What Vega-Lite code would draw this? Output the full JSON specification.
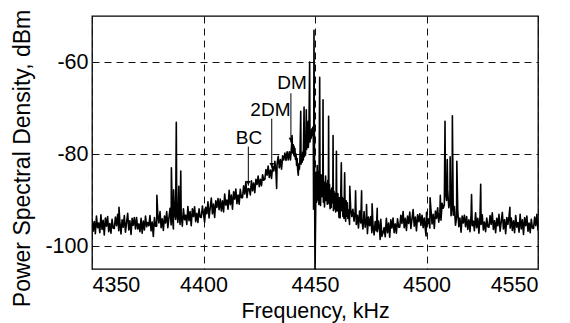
{
"$schema": "https://vega.github.io/schema/vega-lite/v6.json",
"width": 446, "height": 253,
"autosize": {"type": "none"},
"padding": {"left": 92, "top": 16, "right": 32, "bottom": 54},
"background": "white",
"config": {
  "view": {"stroke": "#000", "strokeWidth": 1.3},
  "axis": {"grid": true, "gridColor": "#111", "gridDash": [7, 5], "gridWidth": 1, "gridOpacity": 1, "ticks": false, "tickSize": 0, "domain": false, "labelFont": "Liberation Sans", "labelFontSize": 21.5, "labelColor": "#000", "titleFont": "Liberation Sans", "titleColor": "#000", "titleFontWeight": "normal"}
},
"datasets": {
"spec": [
{"f":4350,"p":-94.1},{"f":4350.5,"p":-96.8},{"f":4351,"p":-94.7},{"f":4351.5,"p":-97.3},{"f":4352,"p":-93.5},{"f":4352.5,"p":-96.0},{"f":4353,"p":-95.0},{"f":4353.5,"p":-97.1},{"f":4354,"p":-93.2},{"f":4354.5,"p":-96.4},{"f":4355,"p":-94.4},{"f":4355.5,"p":-97.6},{"f":4356,"p":-93.9},{"f":4356.5,"p":-95.7},{"f":4357,"p":-93.6},{"f":4357.5,"p":-96.9},{"f":4358,"p":-95.1},{"f":4358.5,"p":-97.2},{"f":4359,"p":-94.2},{"f":4359.5,"p":-96.1},
{"f":4360,"p":-96.2},{"f":4360.5,"p":-93.7},{"f":4361,"p":-95.6},{"f":4361.5,"p":-93.1},{"f":4362,"p":-96.7},{"f":4362.1,"p":-91.6},{"f":4362.5,"p":-94.8},{"f":4363,"p":-97.4},{"f":4363.5,"p":-94.3},{"f":4364,"p":-95.9},{"f":4364.5,"p":-93.4},{"f":4365,"p":-97.0},{"f":4365.5,"p":-94.9},{"f":4366,"p":-92.9},{"f":4366.5,"p":-96.5},{"f":4367,"p":-94.5},{"f":4367.5,"p":-97.5},{"f":4368,"p":-94.0},{"f":4368.5,"p":-95.5},{"f":4369,"p":-93.8},{"f":4369.5,"p":-96.3},
{"f":4370,"p":-93.8},{"f":4370.5,"p":-96.3},{"f":4371,"p":-95.2},{"f":4371.5,"p":-96.9},{"f":4372,"p":-94.0},{"f":4372.5,"p":-97.2},{"f":4373,"p":-94.6},{"f":4373.5,"p":-96.5},{"f":4374,"p":-93.5},{"f":4374.5,"p":-95.8},{"f":4375,"p":-94.9},
{"f":4375.5,"p":-95.6},{"f":4376,"p":-93.4},{"f":4376.5,"p":-96.7},{"f":4377,"p":-94.8},{"f":4377.5,"p":-97.9},{"f":4378,"p":-93.8},{"f":4378.5,"p":-95.7},{"f":4379,"p":-95.7},{"f":4379.1,"p":-89.0},{"f":4379.5,"p":-93.2},{"f":4380,"p":-95.0},{"f":4380.5,"p":-92.5},{"f":4381,"p":-96.0},{"f":4381.5,"p":-94.1},{"f":4382,"p":-96.6},{"f":4382.5,"p":-93.5},{"f":4383,"p":-95.0},{"f":4383.5,"p":-92.5},{"f":4384,"p":-96.0},{"f":4384.5,"p":-93.9},{"f":4385,"p":-91.8},{"f":4385.5,"p":-95.4},{"f":4385.6,"p":-83.0},{"f":4386,"p":-93.3},{"f":4386.5,"p":-96.3},{"f":4386.6,"p":-87.8},{"f":4387,"p":-92.8},{"f":4387.5,"p":-94.2},{"f":4387.8,"p":-73.1},{"f":4388,"p":-92.5},{"f":4388.5,"p":-94.9},{"f":4388.9,"p":-87.0},{"f":4389,"p":-92.7},{"f":4389.5,"p":-95.3},{"f":4389.8,"p":-83.7},{"f":4390,"p":-93.2},{"f":4390.5,"p":-95.7},{"f":4391,"p":-91.9},{"f":4391.5,"p":-94.3},{"f":4392,"p":-93.3},{"f":4392.5,"p":-95.3},{"f":4393,"p":-91.4},{"f":4393.5,"p":-94.5},{"f":4394,"p":-92.5},{"f":4394.5,"p":-95.6},{"f":4395,"p":-91.9},{"f":4395.5,"p":-93.6},{"f":4396,"p":-91.5},{"f":4396.5,"p":-94.7},{"f":4397,"p":-92.9},{"f":4397.5,"p":-94.9},{"f":4398,"p":-91.9},{"f":4398.5,"p":-93.7},{"f":4399,"p":-93.8},{"f":4399.5,"p":-91.3},{"f":4400,"p":-93.1},
{"f":4400.5,"p":-94.8},{"f":4401,"p":-91.6},{"f":4401.5,"p":-93.0},{"f":4402,"p":-90.4},{"f":4402.5,"p":-93.9},{"f":4403,"p":-91.7},{"f":4403.5,"p":-89.6},{"f":4404,"p":-93.0},{"f":4404.5,"p":-90.9},{"f":4405,"p":-93.8},{"f":4405.5,"p":-90.2},{"f":4406,"p":-91.6},{"f":4406.5,"p":-89.7},{"f":4407,"p":-92.1},{"f":4407.5,"p":-89.8},{"f":4408,"p":-92.4},{"f":4408.5,"p":-90.2},{"f":4409,"p":-92.6},{"f":4409.5,"p":-88.7},{"f":4410,"p":-91.1},{"f":4410.5,"p":-90.0},{"f":4411,"p":-92.0},{"f":4411.5,"p":-87.9},{"f":4412,"p":-91.0},{"f":4412.5,"p":-88.9},{"f":4413,"p":-92.0},{"f":4413.5,"p":-88.2},{"f":4414,"p":-89.8},{"f":4414.5,"p":-87.6},{"f":4415,"p":-90.8},{"f":4415.5,"p":-88.9},{"f":4416,"p":-90.9},{"f":4416.5,"p":-87.7},{"f":4417,"p":-89.5},{"f":4417.5,"p":-89.5},{"f":4418,"p":-86.9},{"f":4418.5,"p":-88.7},{"f":4419,"p":-86.0},{"f":4419.5,"p":-89.5},{"f":4420,"p":-87.5},
{"f":4420.5,"p":-87.6},{"f":4421,"p":-88.9},{"f":4421.5,"p":-85.8},{"f":4422,"p":-88.0},{"f":4422.5,"p":-86.3},{"f":4423,"p":-88.4},{"f":4423.5,"p":-85.5},{"f":4424,"p":-86.6},{"f":4424.5,"p":-84.8},{"f":4425,"p":-87.1},{"f":4425.5,"p":-85.5},{"f":4426,"p":-86.9},{"f":4426.5,"p":-84.5},{"f":4427,"p":-85.7},{"f":4427.5,"p":-85.5},{"f":4428,"p":-83.4},{"f":4428.5,"p":-84.6},{"f":4429,"p":-82.6},{"f":4429.5,"p":-85.1},{"f":4430,"p":-83.5},
{"f":4430.5,"p":-85.3},{"f":4431,"p":-82.7},{"f":4431.5,"p":-83.7},{"f":4432,"p":-81.6},{"f":4432.5,"p":-84.0},{"f":4432.8,"p":-87.5},{"f":4433,"p":-82.2},{"f":4433.5,"p":-80.5},{"f":4434,"p":-83.0},{"f":4434.5,"p":-81.2},{"f":4435,"p":-83.3},{"f":4435.5,"p":-80.4},{"f":4436,"p":-81.3},{"f":4436.5,"p":-79.8},{"f":4437,"p":-81.4},{"f":4437.5,"p":-79.5},{"f":4438,"p":-81.3},{"f":4438.5,"p":-79.5},{"f":4439,"p":-81.3},{"f":4439.5,"p":-78.2},{"f":4439.7,"p":-76.0},{"f":4440,"p":-79.8},
{"f":4440.25,"p":-78.0},{"f":4440.5,"p":-80.2},{"f":4440.6,"p":-78.3},{"f":4440.75,"p":-80.5},{"f":4441,"p":-78.8},{"f":4441.25,"p":-81.2},{"f":4441.5,"p":-80.0},{"f":4441.75,"p":-82.5},{"f":4442,"p":-81.0},{"f":4442.25,"p":-83.5},{"f":4442.5,"p":-84.6},{"f":4442.75,"p":-82.2},{"f":4443,"p":-83.3},{"f":4443.25,"p":-81.0},{"f":4443.6,"p":-70.7},{"f":4443.75,"p":-82.2},{"f":4444,"p":-80.2},{"f":4444.25,"p":-81.8},{"f":4444.5,"p":-79.6},{"f":4444.75,"p":-81.3},{"f":4445.1,"p":-69.8},{"f":4445.25,"p":-80.6},{"f":4445.5,"p":-78.5},{"f":4445.75,"p":-80.2},{"f":4446.1,"p":-70.4},{"f":4446.25,"p":-79.0},{"f":4446.5,"p":-77.5},{"f":4446.9,"p":-72.9},{"f":4447,"p":-78.6},{"f":4447.25,"p":-76.3},{"f":4447.6,"p":-60.0},{"f":4447.75,"p":-77.4},{"f":4448,"p":-75.2},{"f":4448.25,"p":-76.6},{"f":4448.5,"p":-74.6},{"f":4448.75,"p":-76.0},{"f":4449,"p":-74.2},{"f":4449.25,"p":-76.5},{"f":4449.35,"p":-92.0},{"f":4449.55,"p":-53.1},{"f":4449.75,"p":-78.0},{"f":4450,"p":-106.0},{"f":4450.25,"p":-95.0},{"f":4450.5,"p":-84.0},{"f":4450.75,"p":-90.5},{"f":4451,"p":-82.5},{"f":4451.25,"p":-90.0},{"f":4451.5,"p":-83.8},{"f":4451.75,"p":-91.0},{"f":4452.1,"p":-63.3},{"f":4452.25,"p":-85.0},{"f":4452.5,"p":-91.2},{"f":4452.75,"p":-84.5},
{"f":4453,"p":-86.2},{"f":4453.25,"p":-89.3},{"f":4453.5,"p":-84.9},{"f":4453.6,"p":-68.2},{"f":4453.75,"p":-90.5},{"f":4454,"p":-86.1},{"f":4454.25,"p":-91.5},{"f":4454.5,"p":-88.7},{"f":4454.75,"p":-84.8},{"f":4455,"p":-90.1},{"f":4455.25,"p":-86.4},{"f":4455.5,"p":-90.9},{"f":4455.75,"p":-85.7},{"f":4456,"p":-88.6},{"f":4456.1,"p":-71.8},{"f":4456.25,"p":-90.8},{"f":4456.5,"p":-86.6},{"f":4456.75,"p":-91.9},{"f":4457,"p":-87.9},{"f":4457.25,"p":-91.6},{"f":4457.5,"p":-87.4},{"f":4457.75,"p":-90.6},{"f":4458,"p":-88.0},{"f":4458.1,"p":-76.0},{"f":4458.25,"p":-92.3},{"f":4458.5,"p":-88.1},{"f":4458.75,"p":-91.9},{"f":4459,"p":-88.6},{"f":4459.25,"p":-92.6},{"f":4459.5,"p":-87.9},{"f":4459.6,"p":-79.4},{"f":4459.75,"p":-90.9},{"f":4460,"p":-92.4},{"f":4460.25,"p":-88.6},{"f":4460.5,"p":-90.4},{"f":4460.75,"p":-93.8},{"f":4461,"p":-89.5},{"f":4461.25,"p":-93.9},{"f":4461.5,"p":-90.3},{"f":4461.8,"p":-81.9},{"f":4462,"p":-92.3},{"f":4462.25,"p":-89.4},{"f":4462.5,"p":-93.6},{"f":4462.75,"p":-89.8},{"f":4463,"p":-94.0},{"f":4463.3,"p":-84.1},{"f":4463.5,"p":-91.9},{"f":4463.75,"p":-94.6},{"f":4464,"p":-90.2},{"f":4464.25,"p":-93.5},{"f":4464.5,"p":-90.6},{"f":4464.75,"p":-94.0},{"f":4465,"p":-92.2},
{"f":4465.5,"p":-95.3},{"f":4465.6,"p":-87.0},{"f":4466,"p":-91.9},{"f":4466.5,"p":-93.6},{"f":4467,"p":-92.0},{"f":4467.5,"p":-94.6},{"f":4468,"p":-92.5},{"f":4468.2,"p":-88.0},{"f":4468.5,"p":-95.3},{"f":4469,"p":-93.3},{"f":4469.5,"p":-96.1},{"f":4470,"p":-92.4},{"f":4470.5,"p":-95.0},{"f":4470.9,"p":-88.0},{"f":4471,"p":-94.1},{"f":4471.5,"p":-96.3},{"f":4472,"p":-92.5},{"f":4472.5,"p":-95.9},{"f":4473,"p":-94.0},{"f":4473.1,"p":-91.0},{"f":4473.5,"p":-97.3},{"f":4474,"p":-93.7},{"f":4474.5,"p":-95.6},{"f":4475,"p":-93.6},{"f":4475.5,"p":-97.1},{"f":4475.6,"p":-90.8},{"f":4476,"p":-95.4},{"f":4476.5,"p":-97.6},{"f":4477,"p":-94.7},{"f":4477.5,"p":-96.7},{"f":4477.9,"p":-91.8},{"f":4478,"p":-96.9},{"f":4478.5,"p":-94.6},{"f":4479,"p":-96.6},{"f":4479.2,"p":-98.6},{"f":4479.5,"p":-94.2},{"f":4480,"p":-97.9},
{"f":4480.5,"p":-97.1},{"f":4481,"p":-96.0},{"f":4481.5,"p":-98.0},{"f":4482,"p":-94.0},{"f":4482.5,"p":-97.1},{"f":4483,"p":-95.0},{"f":4483.5,"p":-98.1},{"f":4484,"p":-94.3},{"f":4484.5,"p":-96.1},{"f":4485,"p":-93.9},{"f":4485.5,"p":-97.1},{"f":4486,"p":-95.2},{"f":4486.5,"p":-97.2},{"f":4487,"p":-94.1},{"f":4487.5,"p":-95.9},{"f":4488,"p":-95.9},{"f":4488.5,"p":-93.3},{"f":4489,"p":-95.1},{"f":4489.5,"p":-92.5},{"f":4490,"p":-96.0},{"f":4490.5,"p":-94.0},{"f":4491,"p":-96.6},{"f":4491.5,"p":-93.5},{"f":4492,"p":-95.1},{"f":4492.5,"p":-92.6},{"f":4493,"p":-96.2},{"f":4493.5,"p":-94.1},{"f":4494,"p":-92.1},{"f":4494.5,"p":-95.7},{"f":4495,"p":-93.7},{"f":4495.5,"p":-96.7},{"f":4496,"p":-93.2},{"f":4496.5,"p":-94.7},{"f":4497,"p":-93.0},{"f":4497.5,"p":-95.5},{"f":4498,"p":-93.3},{"f":4498.5,"p":-96.0},{"f":4499,"p":-93.9},{"f":4499.5,"p":-96.5},{"f":4499.8,"p":-97.8},{"f":4500,"p":-92.7},{"f":4500.5,"p":-95.2},{"f":4501,"p":-94.1},{"f":4501.5,"p":-96.1},{"f":4501.6,"p":-89.5},{"f":4502,"p":-92.1},{"f":4502.5,"p":-95.2},{"f":4503,"p":-93.1},{"f":4503.5,"p":-96.2},{"f":4504,"p":-92.4},{"f":4504.5,"p":-94.0},{"f":4505,"p":-91.7},
{"f":4505.5,"p":-94.8},{"f":4506,"p":-92.8},{"f":4506.2,"p":-89.0},{"f":4506.5,"p":-94.4},{"f":4507,"p":-90.7},{"f":4507.5,"p":-91.8},{"f":4508,"p":-91.1},{"f":4508.3,"p":-72.9},{"f":4508.5,"p":-88.2},{"f":4509,"p":-90.1},{"f":4509.3,"p":-81.2},{"f":4509.5,"p":-87.8},{"f":4510,"p":-91.7},{"f":4510.5,"p":-90.3},{"f":4510.6,"p":-80.6},{"f":4511,"p":-93.4},{"f":4511.5,"p":-91.0},{"f":4511.6,"p":-71.7},{"f":4512,"p":-93.3},{"f":4512.5,"p":-91.4},{"f":4513,"p":-95.5},{"f":4513.5,"p":-93.7},{"f":4513.6,"p":-81.6},{"f":4514,"p":-92.0},{"f":4514.5,"p":-95.8},{"f":4515,"p":-93.9},
{"f":4515.5,"p":-97.0},{"f":4516,"p":-93.5},{"f":4516.5,"p":-95.0},{"f":4517,"p":-93.3},{"f":4517.5,"p":-95.8},{"f":4518,"p":-93.6},{"f":4518.5,"p":-96.4},{"f":4519,"p":-94.3},{"f":4519.5,"p":-96.9},{"f":4520,"p":-93.1},{"f":4520.2,"p":-88.8},{"f":4520.5,"p":-95.6},{"f":4521,"p":-94.6},{"f":4521.5,"p":-96.7},{"f":4522,"p":-92.8},{"f":4522.5,"p":-96.0},{"f":4523,"p":-94.0},{"f":4523.5,"p":-97.2},{"f":4524,"p":-93.5},{"f":4524.3,"p":-86.6},{"f":4524.5,"p":-95.3},{"f":4525,"p":-93.2},{"f":4525.5,"p":-96.5},{"f":4526,"p":-94.8},{"f":4526.5,"p":-96.9},{"f":4527,"p":-93.9},{"f":4527.5,"p":-95.8},{"f":4528,"p":-95.9},{"f":4528.5,"p":-93.4},{"f":4529,"p":-95.3},{"f":4529.5,"p":-92.8},{"f":4530,"p":-96.4},{"f":4530.5,"p":-94.5},{"f":4531,"p":-97.1},{"f":4531.5,"p":-94.0},{"f":4532,"p":-95.6},{"f":4532.5,"p":-93.1},{"f":4533,"p":-96.8},{"f":4533.5,"p":-94.7},{"f":4534,"p":-92.7},{"f":4534.5,"p":-96.3},{"f":4535,"p":-94.3},{"f":4535.5,"p":-97.3},{"f":4536,"p":-93.8},{"f":4536.5,"p":-95.3},{"f":4537,"p":-93.6},{"f":4537.4,"p":-91.6},{"f":4537.5,"p":-96.1},{"f":4538,"p":-93.9},{"f":4538.5,"p":-96.6},{"f":4539,"p":-94.5},{"f":4539.5,"p":-97.1},{"f":4540,"p":-93.4},{"f":4540.5,"p":-95.9},{"f":4541,"p":-94.9},{"f":4541.5,"p":-97.0},{"f":4542,"p":-93.1},{"f":4542.5,"p":-96.3},{"f":4543,"p":-94.3},{"f":4543.5,"p":-97.5},{"f":4544,"p":-93.8},{"f":4544.5,"p":-95.6},{"f":4545,"p":-93.5},{"f":4545.5,"p":-96.8},{"f":4546,"p":-95.0},{"f":4546.5,"p":-97.1},{"f":4547,"p":-94.2},{"f":4547.5,"p":-96.1},{"f":4548,"p":-96.2},{"f":4548.5,"p":-93.7},{"f":4549,"p":-95.6},{"f":4549.5,"p":-93.1},{"f":4550,"p":-96.7}
],
"arrows": [
{"f":4420.1,"p":-78.4,"p2":-86.9},
{"f":4430.6,"p":-72.3,"p2":-83.0},
{"f":4439.2,"p":-66.8,"p2":-77.5}
],
"heads": [
{"f":4420.1,"p":-86.3},
{"f":4430.6,"p":-82.4},
{"f":4439.2,"p":-76.9}
],
"labels": [
{"f":4420.4,"p":-77.9,"t":"BC"},
{"f":4430.0,"p":-71.8,"t":"2DM"},
{"f":4439.7,"p":-65.9,"t":"DM"}
]
},
"encoding": {
  "x": {"field": "f", "type": "quantitative", "scale": {"domain": [4350, 4550], "nice": false, "zero": false},
        "axis": {"values": [4350, 4400, 4450, 4500, 4550], "labelExpr": "'' + datum.value", "labelPadding": 5, "titlePadding": 5, "titleFontSize": 21.4, "title": "Frequency, kHz"}},
  "y": {"field": "p", "type": "quantitative", "scale": {"domain": [-105, -50], "nice": false, "zero": false},
        "axis": {"values": [-100, -80, -60], "labelExpr": "'' + datum.value", "labelPadding": 4, "titlePadding": 10, "titleFontSize": 23, "titleY": 142, "title": "Power Spectral Density, dBm"}}
},
"layer": [
  {"data": {"name": "spec"}, "mark": {"type": "line", "color": "#000", "strokeWidth": 1.6, "strokeJoin": "round", "clip": true}},
  {"data": {"name": "arrows"}, "mark": {"type": "rule", "color": "#000", "strokeWidth": 1}, "encoding": {"y2": {"field": "p2"}}},
  {"data": {"name": "heads"}, "mark": {"type": "point", "shape": "triangle-down", "filled": true, "color": "#000", "size": 22, "opacity": 1}},
  {"data": {"name": "labels"}, "mark": {"type": "text", "font": "Liberation Sans", "fontSize": 19, "align": "center", "baseline": "alphabetic", "color": "#000"}, "encoding": {"text": {"field": "t"}}}
]
}
